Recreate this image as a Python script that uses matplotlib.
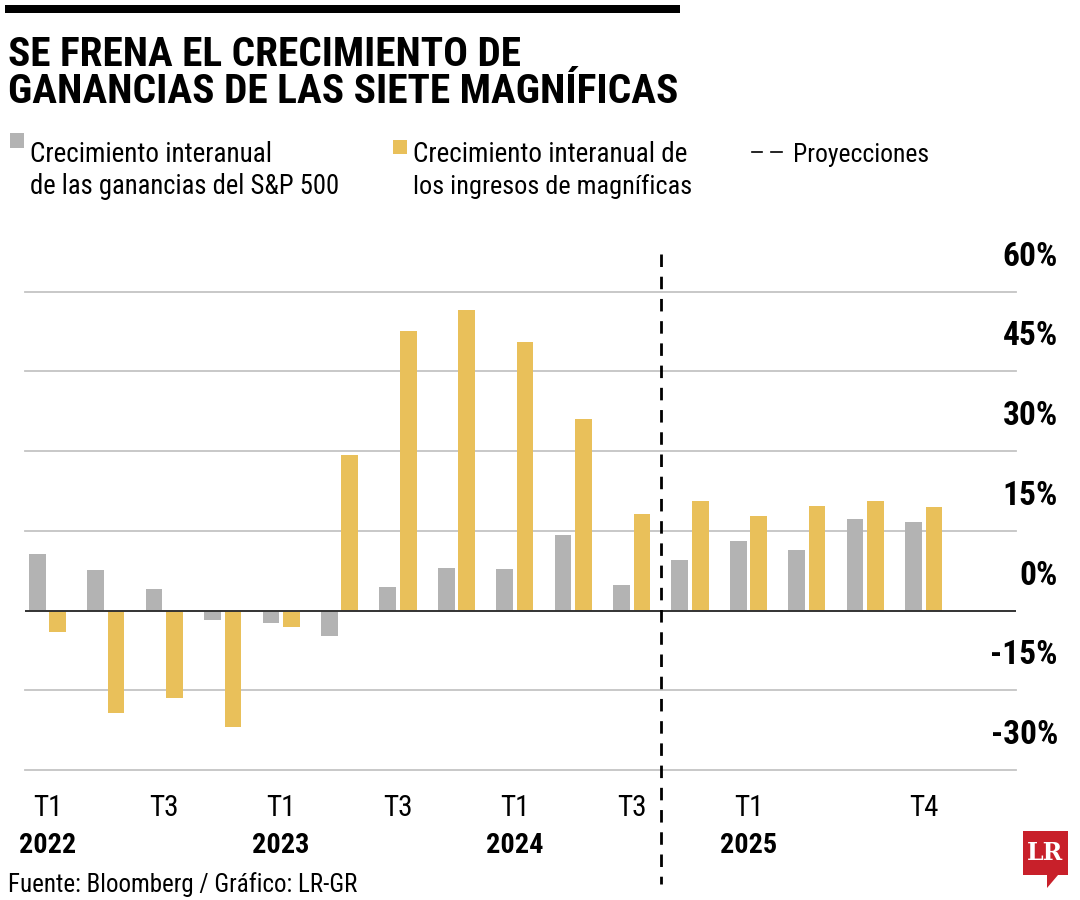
import matplotlib
matplotlib.use("Agg")
import matplotlib.pyplot as plt
from matplotlib import font_manager as fm
from matplotlib.transforms import blended_transform_factory, ScaledTranslation
from matplotlib.patches import Rectangle, Polygon
import numpy as np

# ---------------- data ----------------
quarters = ["T1 2022", "T2 2022", "T3 2022", "T4 2022",
            "T1 2023", "T2 2023", "T3 2023", "T4 2023",
            "T1 2024", "T2 2024", "T3 2024", "T4 2024",
            "T1 2025", "T2 2025", "T3 2025", "T4 2025"]
sp500_growth = [10.7, 7.6, 4.0, -1.7, -2.3, -4.7, 4.5, 8.0,
                7.8, 14.2, 4.8, 9.6, 13.1, 11.4, 17.2, 16.7]
mag7_growth = [-4.0, -19.2, -16.5, -21.9, -3.1, 29.2, 52.6, 56.6,
               50.5, 36.0, 18.2, 20.6, 17.8, 19.7, 20.7, 19.5]
quarter_tick_idx = [0, 2, 4, 6, 8, 10, 12, 15]
quarter_tick_lbl = ["T1", "T3", "T1", "T3", "T1", "T3", "T1", "T4"]
year_tick_idx = [0, 4, 8, 12]
year_tick_lbl = ["2022", "2023", "2024", "2025"]
y_ticks = [-30, -15, 0, 15, 30, 45, 60]
y_tick_lbl = ["-30%", "-15%", "0%", "15%", "30%", "45%", "60%"]
projection_start = 10.5

title_lines = ["SE FRENA EL CRECIMIENTO DE", "GANANCIAS DE LAS SIETE MAGNÍFICAS"]
legend_gray = ["Crecimiento interanual", "de las ganancias del S&P 500"]
legend_yellow = ["Crecimiento interanual de", "los ingresos de magníficas"]
legend_proj = "Proyecciones"
source = "Fuente: Bloomberg / Gráfico: LR-GR"

GRAY = "#b3b3b3"
YELLOW = "#e9c05a"

# ---------------- fonts ----------------
fonts = fm.fontManager.ttflist
names = {f.name for f in fonts}
cond_family, cond_stretch = None, "normal"
for n in ["Liberation Sans Narrow", "Roboto Condensed", "Open Sans Condensed"]:
    if n in names:
        cond_family = n
        break
if cond_family is None:
    for f in fonts:
        if f.name in ("DejaVu Sans", "Open Sans", "Noto Sans", "Roboto") and str(f.stretch) in ("condensed", "semi-condensed", "extra-condensed"):
            cond_family, cond_stretch = f.name, "condensed"
            break
if cond_family is None:
    cond_family = "Liberation Sans"

W, H = 1080, 900
fig = plt.figure(figsize=(W / 100, H / 100), dpi=100)
fig.patch.set_facecolor("white")


def fx(px):
    return px / W


def fy(py):
    return 1 - py / H


texts_to_fit = []


def ftext(x, y, s, width, weight="normal", ha="left", va="baseline", color="black",
          transform=None, family=None, grow=1.0, size=20):
    t = fig.text(x, y, s, fontsize=size, weight=weight, ha=ha, va=va, color=color,
                 family=family or cond_family, stretch=cond_stretch,
                 transform=transform if transform is not None else fig.transFigure)
    texts_to_fit.append((t, width, grow))
    return t


# ---------------- axes ----------------
ax_left, ax_right = 25, 1016
ax_top, ax_bottom = 291.7, 770
ax = fig.add_axes([fx(ax_left), fy(ax_bottom), fx(ax_right - ax_left), (ax_bottom - ax_top) / H])
ax.set_xlim(-0.385, 16.58)
ax.set_ylim(-30, 60)
for sp in ax.spines.values():
    sp.set_visible(False)
ax.set_xticks([])
ax.set_yticks([])
for v in y_ticks:
    if v == 0:
        continue
    ax.axhline(v, color="#c4c4c4", lw=1.3, zorder=1, clip_on=False)

x = np.arange(len(quarters))
bw = 0.286
off = 0.175
ax.bar(x - off, sp500_growth, width=bw, color=GRAY, zorder=2)
ax.bar(x + off, mag7_growth, width=bw, color=YELLOW, zorder=2)
ax.axhline(0, color="#333333", lw=1.4, zorder=3)

# projection dashed line (extends beyond axes)
ax.plot([projection_start, projection_start], [67.0, -51.5], color="black", lw=2.0,
        ls=(0, (4.5, 3.5)), clip_on=False, zorder=4)

# y labels (right side, above gridlines)
ylab_tr = blended_transform_factory(fig.transFigure, ax.transData) + \
    ScaledTranslation(0, 0.26, fig.dpi_scale_trans)
for v, s in zip(y_ticks, y_tick_lbl):
    ftext(fx(1058), v, s, None, weight="bold", ha="right", transform=ylab_tr, size=24)

# x labels
xlab_tr = blended_transform_factory(ax.transData, fig.transFigure)
for i, s in zip(quarter_tick_idx, quarter_tick_lbl):
    ftext(i, fy(816), s, None, ha="center", transform=xlab_tr, size=21)
for i, s in zip(year_tick_idx, year_tick_lbl):
    ftext(i, fy(853), s, 55, weight="bold", ha="center", transform=xlab_tr, grow=1.04)

# ---------------- header ----------------
fig.add_artist(Rectangle((fx(5), fy(13)), fx(675), 8 / H, transform=fig.transFigure,
                         color="black", lw=0))
ftext(fx(8), fy(66), title_lines[0], 514, weight="bold")
ftext(fx(8), fy(103), title_lines[1], 670, weight="bold")

# legend
fig.add_artist(Rectangle((fx(10), fy(148)), fx(14), 15 / H, transform=fig.transFigure,
                         color=GRAY, lw=0))
ftext(fx(30), fy(162), legend_gray[0], 228, grow=1.06)
ftext(fx(30), fy(194), legend_gray[1], 292, grow=1.06)
fig.add_artist(Rectangle((fx(393), fy(154)), fx(14), 14 / H, transform=fig.transFigure,
                         color=YELLOW, lw=0))
ftext(fx(413), fy(162), legend_yellow[0], 259, grow=1.06)
ftext(fx(413), fy(194), legend_yellow[1], 263, grow=1.06)
for a, b in [(752, 762), (771, 782)]:
    fig.add_artist(plt.Line2D([fx(a), fx(b)], [fy(152), fy(152)], transform=fig.transFigure,
                              color="black", lw=1.2))
ftext(fx(793), fy(162), legend_proj, 128, grow=1.06)

# footer
ftext(fx(8), fy(892), source, 349)

# LR logo
logo = Polygon([(fx(1023), fy(831)), (fx(1068), fy(831)), (fx(1068), fy(875)),
                (fx(1058), fy(875)), (fx(1047), fy(888)), (fx(1047), fy(875)),
                (fx(1023), fy(875))], closed=True, transform=fig.transFigure,
               color="#c8202a", lw=0)
fig.add_artist(logo)
fig.text(fx(1045.5), fy(853), "LR", color="white", fontsize=17, weight="bold",
         family="DejaVu Serif", ha="center", va="center")

# ---------------- fit text sizes ----------------
fig.canvas.draw()
r = fig.canvas.get_renderer()
for t, w, g in texts_to_fit:
    if w is None:
        continue
    bb = t.get_window_extent(r)
    t.set_fontsize(t.get_fontsize() * w / bb.width * g)

fig.savefig("out.png", dpi=100, facecolor="white")
